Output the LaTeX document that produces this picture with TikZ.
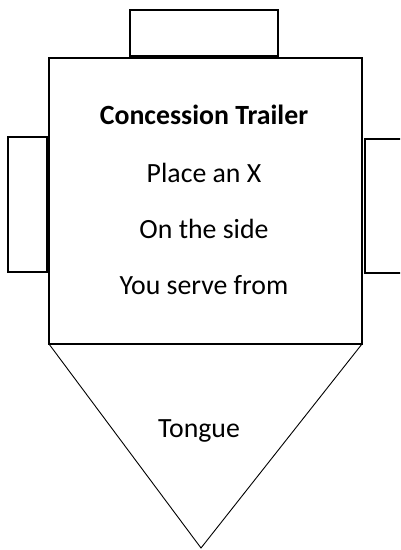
\documentclass[tikz,border=0pt]{standalone}
\usepackage{fontspec}
\setmainfont{Carlito}
\usetikzlibrary{positioning}

\begin{document}
\begin{tikzpicture}[x=1pt, y=-1pt, line width=1.3pt, txt/.style={anchor=base, font=\fontsize{27.8}{32}\selectfont}]
\def\mx{204}

\useasboundingbox (0,0) rectangle (400,550);
\clip (0,0) rectangle (400,550);

% trailer body and side windows
\draw (130,10) rectangle (278,56);
\draw (49,58) rectangle (362,344);
\draw (8,137) rectangle (47,272);
\draw (365,139) rectangle (412,273);

% tongue
\draw[line width=.9pt] (49,344) -- (201,548) -- (362,344);

\node[txt, font=\fontsize{27.8}{32}\selectfont\bfseries] (title) at (\mx,124) {Concession Trailer};
\node[txt] (place) at (\mx,182) {Place an X};
\node[txt] (side) at (\mx,238) {On the side};
\node[txt] (serve) at (\mx,294) {You serve from};
\node[txt] (tongue) at (199,437) {Tongue};

\end{tikzpicture}
\end{document}
